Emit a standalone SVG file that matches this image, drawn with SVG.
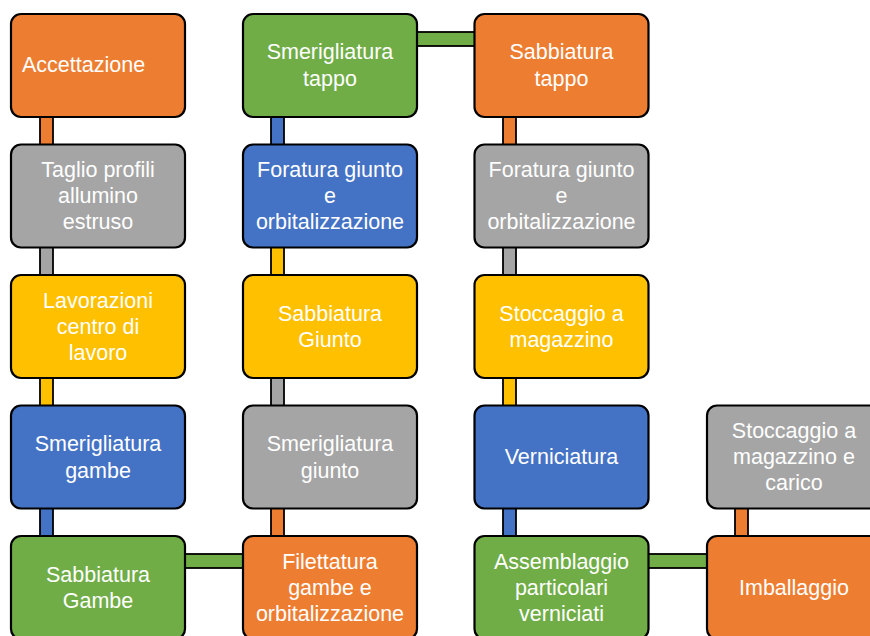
<svg xmlns="http://www.w3.org/2000/svg" width="870" height="636" viewBox="0 0 870 636">
<style>
.box{stroke:#000;stroke-width:2.2}
.bar{stroke:#000;stroke-width:1.8}
.o{fill:#ED7D31}.g{fill:#A5A5A5}.y{fill:#FFC000}.b{fill:#4472C4}.gr{fill:#70AD47}
text{font-family:"Liberation Sans",Arial,sans-serif;font-size:21.5px;fill:#fff;text-anchor:middle}
</style>
<rect width="870" height="636" fill="#fff"/>
<g id="connectors">
<rect class="bar o" x="40" y="116" width="13" height="30"/>
<rect class="bar g" x="40" y="247" width="13" height="30"/>
<rect class="bar y" x="40" y="378" width="13" height="30"/>
<rect class="bar b" x="40" y="508" width="13" height="30"/>
<rect class="bar gr" x="184" y="554" width="60" height="14"/>
<rect class="bar o" x="271" y="508" width="13" height="30"/>
<rect class="bar g" x="271" y="378" width="13" height="30"/>
<rect class="bar y" x="271" y="247" width="13" height="30"/>
<rect class="bar b" x="271" y="116" width="13" height="30"/>
<rect class="bar gr" x="416" y="32" width="60" height="14"/>
<rect class="bar o" x="503" y="116" width="13" height="30"/>
<rect class="bar g" x="503" y="247" width="13" height="30"/>
<rect class="bar y" x="503" y="378" width="13" height="30"/>
<rect class="bar b" x="503" y="508" width="13" height="30"/>
<rect class="bar gr" x="647" y="554" width="61" height="14"/>
<rect class="bar o" x="735" y="508" width="13" height="30"/>
</g>
<g id="n1"><rect class="box o" x="11" y="14" width="174" height="103" rx="10"/><text x="22" y="72" style="text-anchor:start">Accettazione</text></g>
<g id="n2"><rect class="box g" x="11" y="144.5" width="174" height="103" rx="10"/><text x="98" y="177">Taglio profili</text><text x="98" y="203">allumino</text><text x="98" y="229">estruso</text></g>
<g id="n3"><rect class="box y" x="11" y="275" width="174" height="103" rx="10"/><text x="98" y="308">Lavorazioni</text><text x="98" y="334">centro di</text><text x="98" y="360">lavoro</text></g>
<g id="n4"><rect class="box b" x="11" y="405.5" width="174" height="103" rx="10"/><text x="98" y="451">Smerigliatura</text><text x="98" y="478">gambe</text></g>
<g id="n5"><rect class="box gr" x="11" y="536" width="174" height="103" rx="10"/><text x="98" y="581.5">Sabbiatura</text><text x="98" y="608">Gambe</text></g>
<g id="n6"><rect class="box o" x="243" y="536" width="174" height="103" rx="10"/><text x="330" y="569">Filettatura</text><text x="330" y="595">gambe e</text><text x="330" y="621">orbitalizzazione</text></g>
<g id="n7"><rect class="box g" x="243" y="405.5" width="174" height="103" rx="10"/><text x="330" y="451">Smerigliatura</text><text x="330" y="478">giunto</text></g>
<g id="n8"><rect class="box y" x="243" y="275" width="174" height="103" rx="10"/><text x="330" y="321">Sabbiatura</text><text x="330" y="347">Giunto</text></g>
<g id="n9"><rect class="box b" x="243" y="144.5" width="174" height="103" rx="10"/><text x="330" y="177">Foratura giunto</text><text x="330" y="203">e</text><text x="330" y="229">orbitalizzazione</text></g>
<g id="n10"><rect class="box gr" x="243" y="14" width="174" height="103" rx="10"/><text x="330" y="59">Smerigliatura</text><text x="330" y="86">tappo</text></g>
<g id="n11"><rect class="box o" x="474.5" y="14" width="174" height="103" rx="10"/><text x="561.5" y="59">Sabbiatura</text><text x="561.5" y="86">tappo</text></g>
<g id="n12"><rect class="box g" x="474.5" y="144.5" width="174" height="103" rx="10"/><text x="561.5" y="177">Foratura giunto</text><text x="561.5" y="203">e</text><text x="561.5" y="229">orbitalizzazione</text></g>
<g id="n13"><rect class="box y" x="474.5" y="275" width="174" height="103" rx="10"/><text x="561.5" y="321">Stoccaggio a</text><text x="561.5" y="347">magazzino</text></g>
<g id="n14"><rect class="box b" x="474.5" y="405.5" width="174" height="103" rx="10"/><text x="561.5" y="464">Verniciatura</text></g>
<g id="n15"><rect class="box gr" x="474.5" y="536" width="174" height="103" rx="10"/><text x="561.5" y="569">Assemblaggio</text><text x="561.5" y="595">particolari</text><text x="561.5" y="621">verniciati</text></g>
<g id="n16"><rect class="box o" x="707" y="536" width="174" height="103" rx="10"/><text x="794" y="595">Imballaggio</text></g>
<g id="n17"><rect class="box g" x="707" y="405.5" width="174" height="103" rx="10"/><text x="794" y="438">Stoccaggio a</text><text x="794" y="464">magazzino e</text><text x="794" y="490">carico</text></g>
</svg>
